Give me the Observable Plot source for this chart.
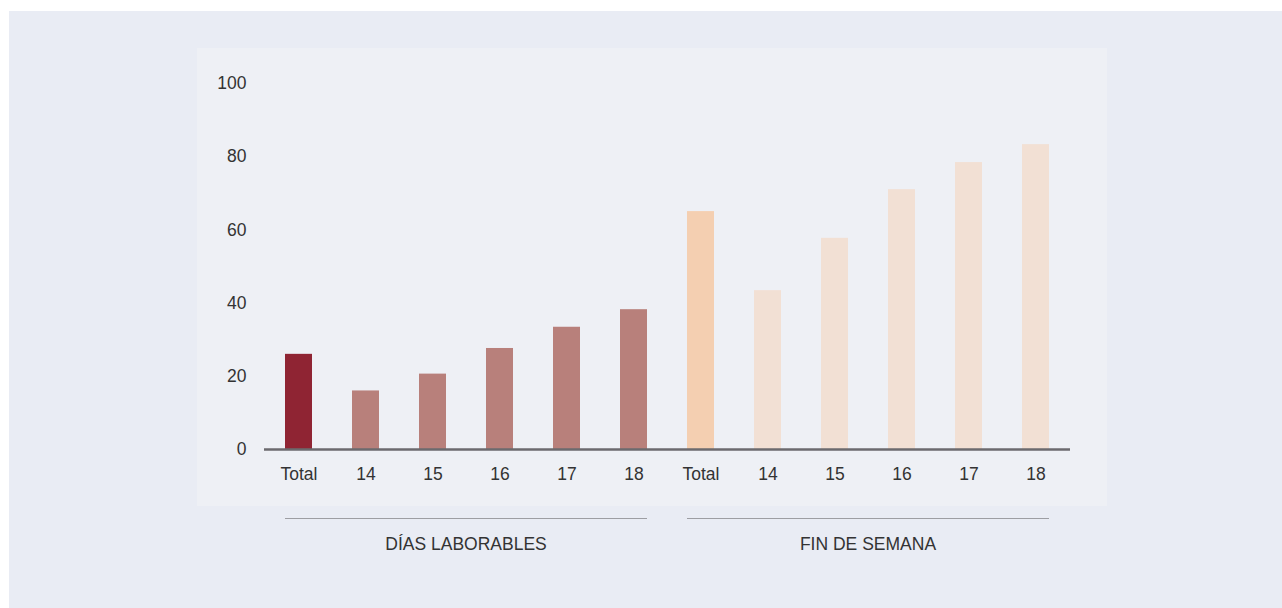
<!DOCTYPE html>
<html><head><meta charset="utf-8">
<script src="https://cdn.jsdelivr.net/npm/d3@7"></script>
<script src="https://cdn.jsdelivr.net/npm/@observablehq/plot@0.6"></script>
<style>
html,body{margin:0;padding:0;background:#fff;width:1282px;height:608px;overflow:hidden;font-family:"Liberation Sans",Arial,sans-serif;}
#outer{position:absolute;left:9px;top:11px;width:1273px;height:597px;background:#e9ecf4;}
#panel{position:absolute;left:197px;top:48px;width:910px;height:458px;background:#eef0f5;}
#chart{position:absolute;left:0;top:0;}
.grp-line{position:absolute;height:1.5px;background:#9d9ea3;top:517.5px;}
.grp-label{position:absolute;top:534px;font-size:17.5px;line-height:20px;color:#333;text-align:center;white-space:nowrap;}
</style>
</head><body>
<div id="outer"></div>
<div id="panel"></div>
<div id="chart"></div>
<script>
const groups = ["DÍAS LABORABLES", "FIN DE SEMANA"];
const groupKeys = ["L", "F"];
const ages = ["Total", "14", "15", "16", "17", "18"];
const laborables = [26, 16, 20.6, 27.6, 33.4, 38.2];
const finDeSemana = [65, 43.4, 57.7, 71, 78.4, 83.3];
const yTicks = [0, 20, 40, 60, 80, 100];

const colorTotalL = "#8f2433", colorAgeL = "#b8807b";
const colorTotalF = "#f4cfb1", colorAgeF = "#f2e0d4";

const data = [];
ages.forEach((a, i) => data.push({key: "L-" + a, label: a, group: 0, value: laborables[i], color: i === 0 ? colorTotalL : colorAgeL}));
ages.forEach((a, i) => data.push({key: "F-" + a, label: a, group: 1, value: finDeSemana[i], color: i === 0 ? colorTotalF : colorAgeF}));
const labelOf = new Map(data.map(d => [d.key, d.label]));

const plot = Plot.plot({
  width: 1282,
  height: 608,
  marginLeft: 264,
  marginRight: 212,
  marginTop: 83,
  marginBottom: 159,
  style: {background: "transparent", fontFamily: "'Liberation Sans', Arial, sans-serif", fontSize: "17.5px", color: "#333"},
  x: {domain: data.map(d => d.key), paddingInner: 0.6, paddingOuter: 0.3, label: null},
  y: {domain: [0, 100], label: null},
  marks: [
    Plot.barY(data, {x: "key", y: "value", fill: "color"}),
    Plot.ruleY([0], {stroke: "#6b6a6e", strokeWidth: 2.5}),
    Plot.axisX({tickSize: 0, tickPadding: 18, tickFormat: k => labelOf.get(k), fill: "#333", label: null}),
    Plot.axisY({ticks: yTicks, tickSize: 0, tickPadding: 18, fill: "#333", label: null})
  ]
});
document.getElementById("chart").appendChild(plot);

const xs = plot.scale("x");
const bw = xs.bandwidth;
groupKeys.forEach((g, gi) => {
  const x1 = xs.apply(g + "-" + ages[0]);
  const x2 = xs.apply(g + "-" + ages[ages.length - 1]) + bw;
  const line = document.createElement("div");
  line.className = "grp-line";
  line.style.left = x1 + "px";
  line.style.width = (x2 - x1) + "px";
  document.body.appendChild(line);
  const lab = document.createElement("div");
  lab.className = "grp-label";
  lab.textContent = groups[gi];
  lab.style.left = x1 + "px";
  lab.style.width = (x2 - x1) + "px";
  document.body.appendChild(lab);
});
</script>
</body></html>
